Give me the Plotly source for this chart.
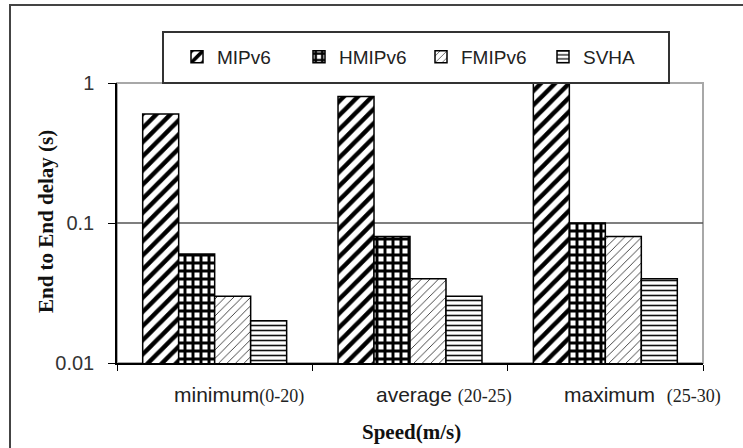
import plotly.graph_objects as go

categories = ["minimum", "average", "maximum"]
ranges = ["(0-20)", "(20-25)", "(25-30)"]
series_names = ["MIPv6", "HMIPv6", "FMIPv6", "SVHA"]
mipv6 = [0.6, 0.8, 1.0]
hmipv6 = [0.06, 0.08, 0.1]
fmipv6 = [0.03, 0.04, 0.08]
svha = [0.02, 0.03, 0.04]
y_ticks = [0.01, 0.1, 1]
y_ticktext = ["0.01", "0.1", "1"]

series_values = [mipv6, hmipv6, fmipv6, svha]
patterns = [
    dict(shape="/", fgcolor="black", bgcolor="white", fgopacity=1, size=10, solidity=0.45),
    dict(shape="+", fgcolor="black", bgcolor="white", fgopacity=1, size=8, solidity=0.6),
    dict(shape="/", fgcolor="#333333", bgcolor="white", fgopacity=1, size=6, solidity=0.15),
    dict(shape="-", fgcolor="#111111", bgcolor="white", fgopacity=1, size=5, solidity=0.32),
]

fig = go.Figure()
for name, vals, pat in zip(series_names, series_values, patterns):
    fig.add_trace(go.Bar(
        x=categories, y=vals, name=name,
        marker=dict(color="white", line=dict(color="black", width=1.5), pattern=pat),
    ))

L, R, T, B = 117, 40, 83, 85
W, H = 743, 448
pw, ph = W - L - R, H - T - B

def px_x(p):
    return (p - L) / pw

def px_y(p):
    return (H - B - p) / ph

shapes = [
    dict(type="rect", xref="paper", yref="paper", x0=px_x(10), x1=px_x(760),
         y0=px_y(470), y1=px_y(5), line=dict(color="#444444", width=2), layer="below"),
    dict(type="rect", xref="paper", yref="paper", x0=0, x1=1, y0=0, y1=1,
         line=dict(color="#a8a8a8", width=2), layer="below"),
    dict(type="line", xref="paper", yref="y domain", x0=0, x1=1, y0=0.5, y1=0.5,
         line=dict(color="#555555", width=1.5), layer="below"),
    dict(type="rect", xref="paper", yref="paper", x0=px_x(163), x1=px_x(669),
         y0=px_y(83), y1=px_y(32), line=dict(color="#333333", width=2), layer="above"),
]

xshifts = [24, 34, 37]
annotations = []
for cat, rng, xs in zip(categories, ranges, xshifts):
    sep = "" if cat == "minimum" else ("  " if cat == "maximum" else " ")
    annotations.append(dict(
        x=cat, xref="x", y=px_y(395), yref="paper", xshift=xs, showarrow=False,
        text=f"{cat}{sep}<span style='font-family:Liberation Serif;font-size:18px'>{rng}</span>",
        font=dict(family="Arial", size=21, color="#222222"),
        xanchor="center", yanchor="middle",
    ))
annotations.append(dict(
    x=px_x(411), xref="paper", y=px_y(432), yref="paper", showarrow=False,
    text="<b>Speed(m/s)</b>", font=dict(family="Liberation Serif", size=21, color="#111111"),
    xanchor="center", yanchor="middle"))
annotations.append(dict(
    x=px_x(46), xref="paper", y=px_y(222), yref="paper", showarrow=False, textangle=-90,
    text="<b>End to End delay (s)</b>", font=dict(family="Liberation Serif", size=21, color="#111111"),
    xanchor="center", yanchor="middle"))

fig.update_layout(
    width=W, height=H,
    margin=dict(l=L, r=R, t=T, b=B, autoexpand=False),
    paper_bgcolor="white", plot_bgcolor="white",
    barmode="group", bargap=0.263, bargroupgap=0,
    showlegend=True,
    legend=dict(orientation="h", x=px_x(177), xanchor="left", y=px_y(57), yanchor="middle",
                font=dict(family="Arial", size=19, color="#222222"),
                bgcolor="rgba(0,0,0,0)", borderwidth=0, entrywidth=77, itemwidth=30,
                traceorder="normal"),
    shapes=shapes, annotations=annotations,
    xaxis=dict(showline=True, linecolor="black", linewidth=1.5, showgrid=False,
               range=[-0.5, len(categories) - 0.5], autorange=False,
               ticks="outside", tickson="boundaries", ticklen=6, tickcolor="black",
               showticklabels=False, zeroline=False),
    yaxis=dict(type="log", range=[-2, 0], showline=True, linecolor="black", linewidth=1.5,
               showgrid=False, tickvals=y_ticks, ticktext=y_ticktext, ticks="outside",
               ticklen=7, tickcolor="black", ticklabelstandoff=10,
               tickfont=dict(family="Arial", size=20, color="#333333"), zeroline=False),
)

fig.write_html("out.html", config={"displayModeBar": False},
               post_script="document.body.style.margin='0';")
